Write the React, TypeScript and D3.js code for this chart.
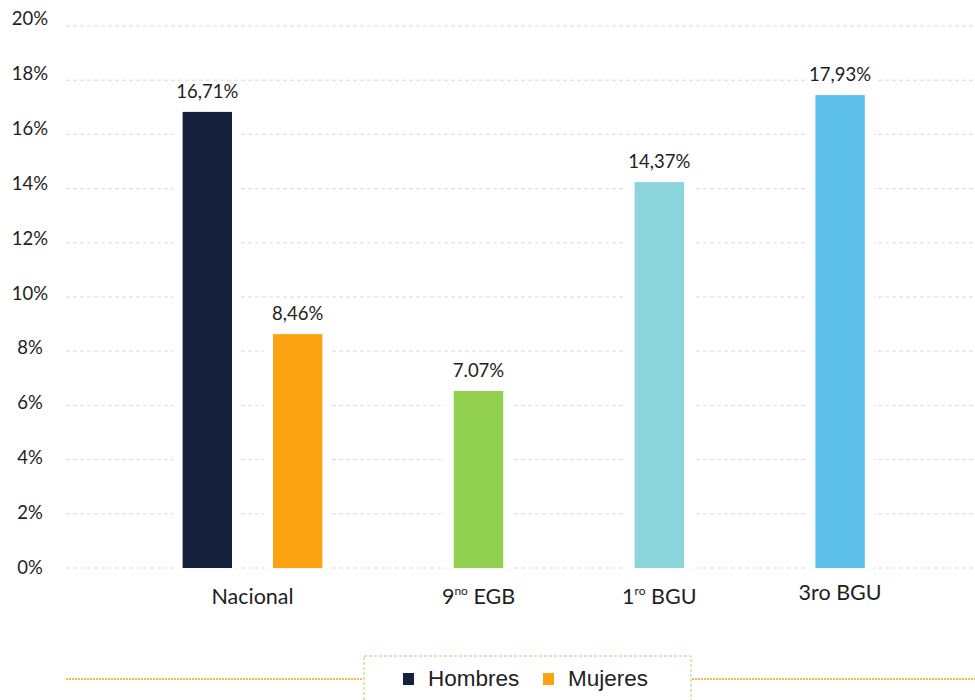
import React from "react";
import * as d3 from "d3";

const slots = ["Hombres", "Mujeres", "gap1", "9no", "gap2", "1ro", "gap3", "3ro"];
const barKeys = ["Hombres", "Mujeres", "9no", "1ro", "3ro"];
const barValues = [16.83, 8.63, 6.53, 14.24, 17.45];
const barLabels = ["16,71%", "8,46%", "7.07%", "14,37%", "17,93%"];
const barColors = ["#15213d", "#fca311", "#92d050", "#8cd4dc", "#5cc0eb"];
const categories = [
  { main: "Nacional", sup: "", rest: "", slots: ["Hombres", "Mujeres"], dy: 0 },
  { main: "9", sup: "no", rest: " EGB", slots: ["9no"], dy: 0 },
  { main: "1", sup: "ro", rest: " BGU", slots: ["1ro"], dy: 0 },
  { main: "3ro BGU", sup: "", rest: "", slots: ["3ro"], dy: -4 },
];
const yTicks = [0, 2, 4, 6, 8, 10, 12, 14, 16, 18, 20];
const legendItems = [
  { name: "Hombres", color: "#15213d" },
  { name: "Mujeres", color: "#fca311" },
];

const W = 975;
const H = 700;
const FONT = "Lato, 'Open Sans', sans-serif";

export default function App() {
  const y = d3.scaleLinear().domain([0, 20]).range([568, 26]);
  const step = 90.4;
  const pad = 41 / step;
  const x = d3
    .scaleBand<string>()
    .domain(slots)
    .range([182.6 - pad * step, 182.6 - pad * step + step * (8 + pad)])
    .padding(pad);
  const bw = x.bandwidth();
  const gridX0 = 66;

  return (
    <svg
      width={W}
      height={H}
      style={{ position: "absolute", left: 0, top: 0, background: "#fff" }}
      fontFamily={FONT}
    >
      {/* gridlines */}
      {yTicks.map((t) => (
        <line
          key={"g" + t}
          x1={gridX0}
          x2={W}
          y1={y(t)}
          y2={y(t)}
          stroke="#d9d9d9"
          strokeWidth={1}
          strokeDasharray="4,3"
        />
      ))}
      {/* y tick labels */}
      {yTicks.map((t, i) => (
        <text
          key={"t" + t}
          x={30}
          y={y(t) + 6 - (i / 10) * 7}
          textAnchor="middle"
          fontSize={18.5}
          fill="#1e1e1e"
        >
          {t}%
        </text>
      ))}
      {/* bars */}
      {barKeys.map((k, i) => {
        const x0 = x(k)!;
        const top = y(barValues[i]);
        return (
          <g key={k}>
            <rect x={x0 - 9} y={top} width={bw + 18} height={y(0) - top + 0.5} fill="#fff" />
            <rect x={x0} y={top} width={bw} height={y(0) - top} fill={barColors[i]} />
            <rect x={x0 + bw / 2 - 34} y={top - 30} width={68} height={20} fill="#fff" />
            <text
              x={x0 + bw / 2}
              y={top - 14}
              textAnchor="middle"
              fontSize={18.5}
              fill="#1e1e1e"
            >
              {barLabels[i]}
            </text>
          </g>
        );
      })}
      {/* x category labels */}
      {categories.map((c) => {
        const xs = c.slots.map((s) => x(s)! + bw / 2);
        const cx = d3.mean(xs)!;
        return (
          <text
            key={c.main + c.rest}
            x={cx}
            y={604 + c.dy}
            textAnchor="middle"
            fontSize={21.5}
            fill="#1e1e1e"
          >
            {c.main}
            {c.sup && (
              <tspan fontSize={12} dy={-9}>
                {c.sup}
              </tspan>
            )}
            {c.rest && <tspan dy={c.sup ? 9 : 0}>{c.rest}</tspan>}
          </text>
        );
      })}
      {/* legend */}
      <line x1={66} x2={363} y1={679} y2={679} stroke="#ffb84d" strokeWidth={2} strokeDasharray="2,1" />
      <line x1={692} x2={W} y1={679} y2={679} stroke="#ffb84d" strokeWidth={2} strokeDasharray="2,1" />
      <rect
        x={364}
        y={656}
        width={327}
        height={60}
        fill="#fff"
        stroke="#9cd86a"
        strokeWidth={1}
        strokeDasharray="3,2"
      />
      {legendItems.map((l, i) => {
        const lx = 403 + i * 140;
        return (
          <g key={l.name}>
            <rect x={lx} y={673} width={11} height={12} fill={l.color} />
            <text
              x={lx + 25}
              y={686}
              fontSize={22.5}
              fontFamily="'Liberation Sans Narrow', 'Arial Narrow', sans-serif"
              fill="#222"
            >
              {l.name}
            </text>
          </g>
        );
      })}
    </svg>
  );
}
